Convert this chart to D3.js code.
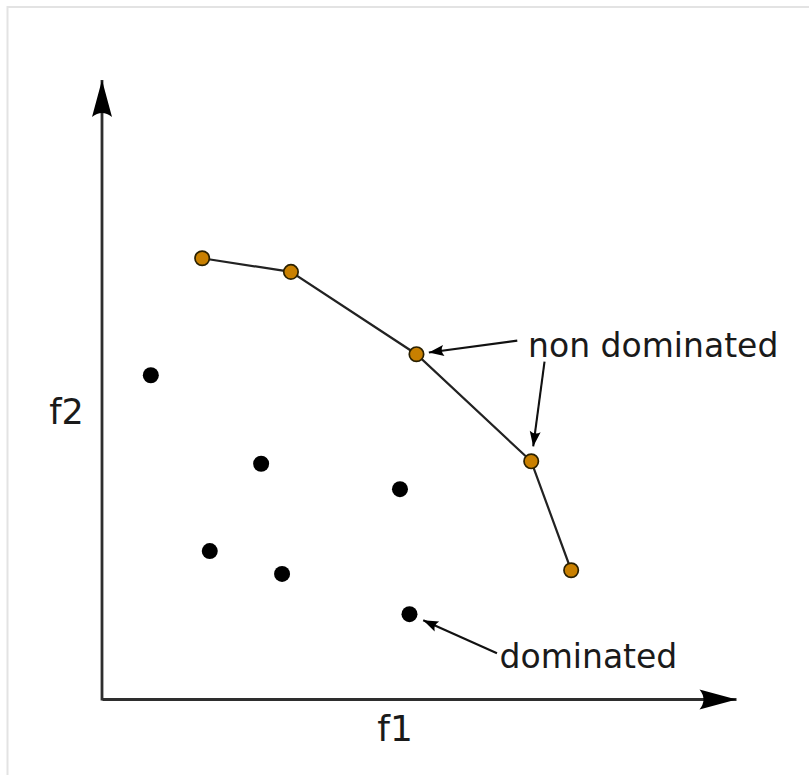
<!DOCTYPE html>
<html>
<head>
<meta charset="utf-8">
<script src="https://cdn.jsdelivr.net/npm/d3@7"></script>
<style>
  html, body { margin: 0; padding: 0; background: #fff; }
  svg { display: block; }
  text { font-family: "DejaVu Sans", sans-serif; fill: #1a1a1a; }
</style>
</head>
<body>
<svg id="chart" width="809" height="775"></svg>
<script>
// ---- data (arbitrary objective units) ----
const paretoF1 = [15.8, 29.8, 49.6, 67.7, 74.0];
const paretoF2 = [71.2, 69.0, 55.7, 38.4, 20.8];
const dominatedF1 = [7.7, 25.1, 47.0, 17.0, 28.4, 48.5];
const dominatedF2 = [52.3, 38.0, 33.9, 23.9, 20.2, 13.7];
const axisLabels = ["f1", "f2"];
const annotationLabels = ["non dominated", "dominated"];
const annotationLabelF1 = [67.2, 62.7];
const annotationLabelF2 = [55.2, 5.0];
// arrows: start (data units) -> target point
const arrowStartF1 = [65.5, 69.8, 62.3];
const arrowStartF2 = [57.9, 54.5, 7.4];
const arrowTargetSet = ["pareto", "pareto", "dominated"];
const arrowTargetIdx = [2, 3, 5];

const svg = d3.select("#chart");

// frame
svg.append("rect")
  .attr("x", 7.5).attr("y", 7).attr("width", 900).attr("height", 900)
  .attr("fill", "none").attr("stroke", "#e3e3e3").attr("stroke-width", 2);

const x = d3.scaleLinear().domain([0, 100]).range([102, 736]);
const y = d3.scaleLinear().domain([0, 100]).range([699, 80]);

const defs = svg.append("defs");
// big axis arrowhead (notched)
defs.append("marker")
  .attr("id", "axisArrow")
  .attr("markerUnits", "userSpaceOnUse")
  .attr("viewBox", "-38 -11 40 22")
  .attr("refX", 0).attr("refY", 0)
  .attr("markerWidth", 40).attr("markerHeight", 22)
  .attr("orient", "auto")
  .append("path")
  .attr("d", "M0,0 L-37,-10 Q-29,0 -37,10 Z")
  .attr("fill", "#000");
// small annotation arrowhead
defs.append("marker")
  .attr("id", "noteArrow")
  .attr("markerUnits", "userSpaceOnUse")
  .attr("viewBox", "-16 -7 18 14")
  .attr("refX", 0).attr("refY", 0)
  .attr("markerWidth", 18).attr("markerHeight", 14)
  .attr("orient", "auto")
  .append("path")
  .attr("d", "M0,0 L-15,-5.5 Q-11,0 -15,5.5 Z")
  .attr("fill", "#000");

// axes via d3 axis generators (no ticks)
const gx = svg.append("g").attr("transform", `translate(0,${y(0)})`)
  .call(d3.axisBottom(x).tickValues([]).tickSizeOuter(0));
gx.select(".domain").attr("stroke", "#2e2e2e").attr("stroke-width", 2.8)
  .attr("marker-end", "url(#axisArrow)");

const gy = svg.append("g").attr("transform", `translate(${x(0)},0)`)
  .call(d3.axisLeft(y).tickValues([]).tickSizeOuter(0));
gy.select(".domain").attr("stroke", "#2e2e2e").attr("stroke-width", 2.8)
  .attr("d", `M0,${y(0) + 1.4}V${y(100)}`)
  .attr("marker-end", "url(#axisArrow)");

// axis labels
svg.append("text").attr("x", 395).attr("y", 741)
  .attr("text-anchor", "middle").attr("font-size", 36).text(axisLabels[0]);
svg.append("text").attr("x", 66.5).attr("y", 424)
  .attr("text-anchor", "middle").attr("font-size", 35).text(axisLabels[1]);

const pareto = paretoF1.map((d, i) => ({ f1: d, f2: paretoF2[i] }));
const dominated = dominatedF1.map((d, i) => ({ f1: d, f2: dominatedF2[i] }));

// pareto front line
svg.append("path").datum(pareto)
  .attr("fill", "none").attr("stroke", "#222").attr("stroke-width", 2.2)
  .attr("d", d3.line().x(d => x(d.f1)).y(d => y(d.f2)));

// dominated points
svg.append("g").selectAll("circle").data(dominated).join("circle")
  .attr("cx", d => x(d.f1)).attr("cy", d => y(d.f2)).attr("r", 8)
  .attr("fill", "#000");

// pareto points
svg.append("g").selectAll("circle").data(pareto).join("circle")
  .attr("cx", d => x(d.f1)).attr("cy", d => y(d.f2)).attr("r", 7.2)
  .attr("fill", "#c98000").attr("stroke", "#2a2000").attr("stroke-width", 1.7);

// annotation arrows
const gaps = [12.5, 15, 15];
arrowStartF1.forEach((sx, i) => {
  const t = (arrowTargetSet[i] === "pareto" ? pareto : dominated)[arrowTargetIdx[i]];
  const x0 = x(sx), y0 = y(arrowStartF2[i]);
  const tx = x(t.f1), ty = y(t.f2);
  const dx = x0 - tx, dy = y0 - ty, len = Math.hypot(dx, dy);
  const ex = tx + dx / len * gaps[i], ey = ty + dy / len * gaps[i];
  svg.append("line")
    .attr("x1", x0).attr("y1", y0).attr("x2", ex).attr("y2", ey)
    .attr("stroke", "#111").attr("stroke-width", 2.1)
    .attr("marker-end", "url(#noteArrow)");
});

// annotation labels
annotationLabels.forEach((t, i) => {
  svg.append("text")
    .attr("x", x(annotationLabelF1[i])).attr("y", y(annotationLabelF2[i]))
    .attr("font-size", 33).text(t);
});
</script>
</body>
</html>
